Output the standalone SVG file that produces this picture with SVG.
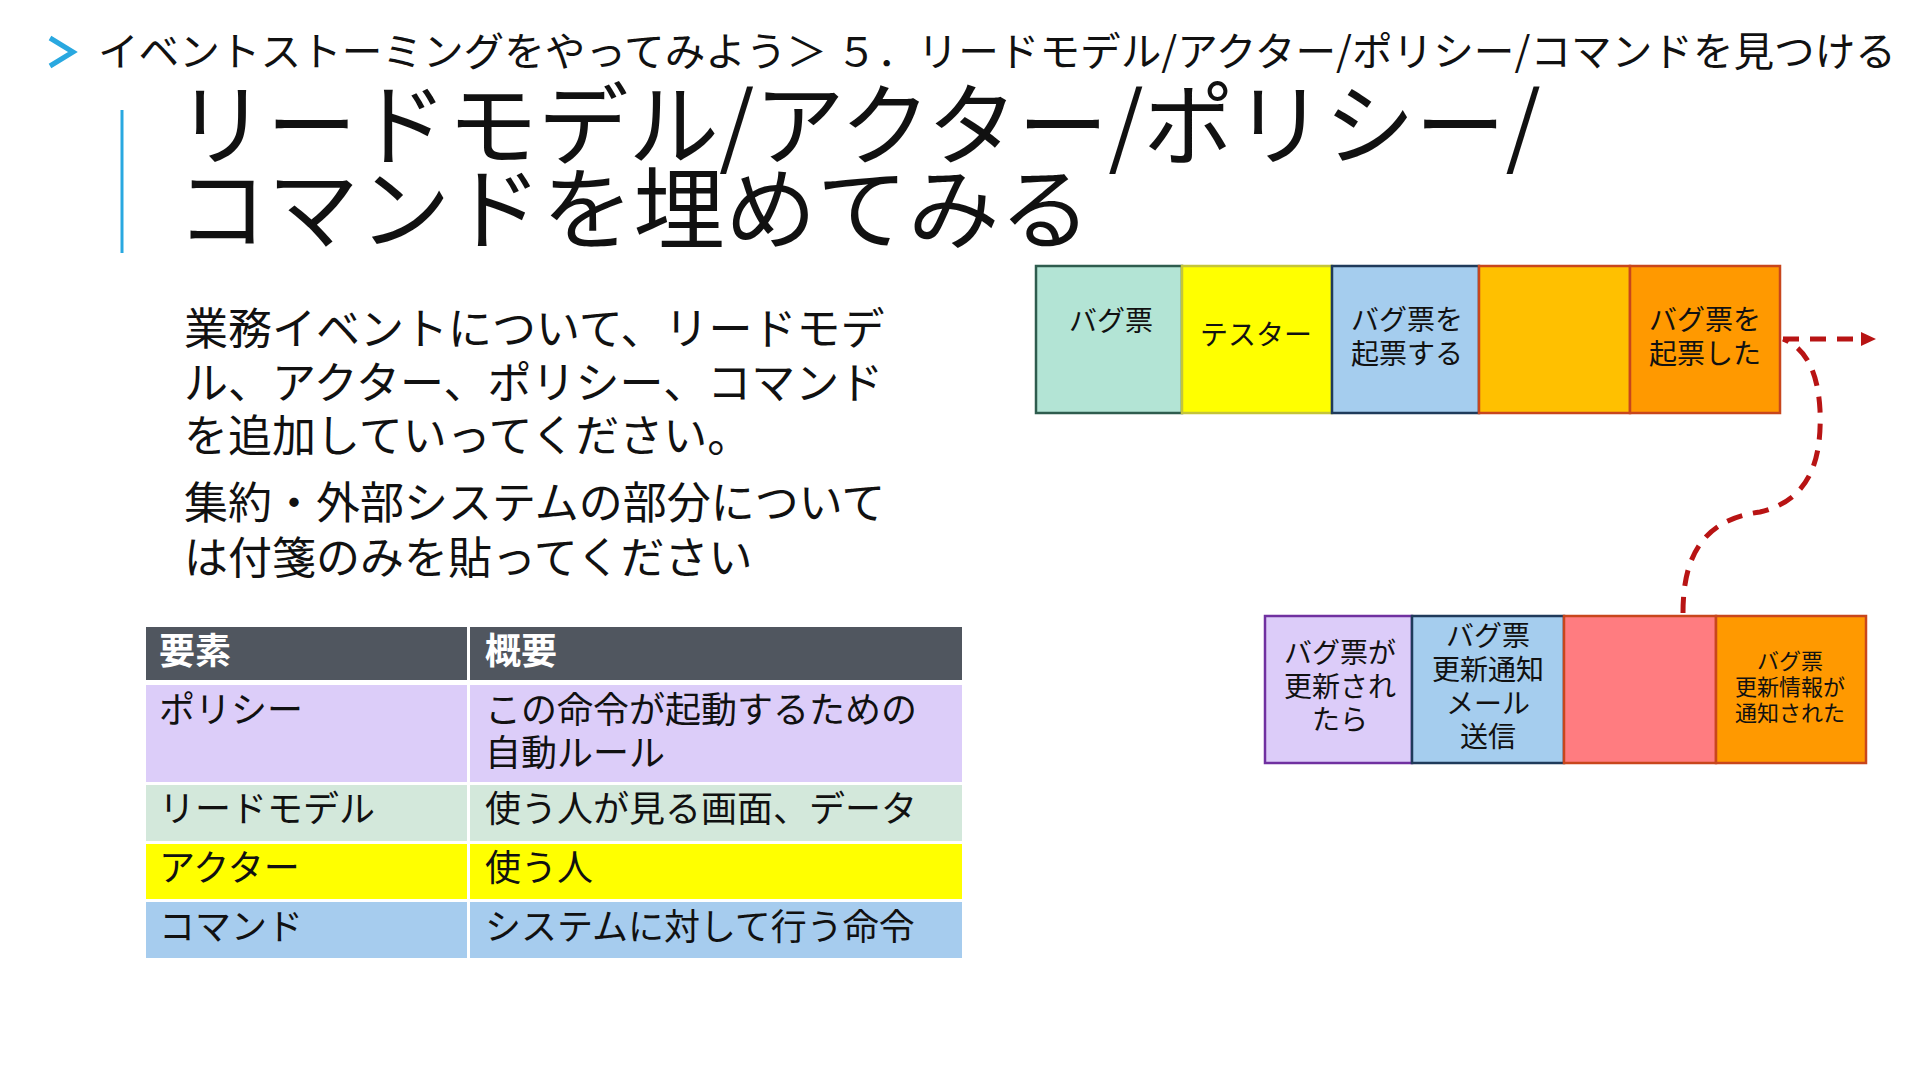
<svg xmlns="http://www.w3.org/2000/svg" width="1920" height="1080" viewBox="0 0 1920 1080">
<defs>
<style>
text{font-family:"Noto Sans CJK JP","Noto Sans",sans-serif;fill:#111}
.crumb{font-size:40px}
.title{font-size:90px}
.body{font-size:44px}
.cell{font-size:36px}
.head{font-size:36px;font-weight:700;fill:#fff}
.note{font-size:28px;text-anchor:middle}
.small{font-size:22px;text-anchor:middle}
.st{stroke-width:2.5}
.conn{fill:none;stroke:#B81414;stroke-width:5;stroke-dasharray:16 11}
</style>
<marker id="arr" markerUnits="userSpaceOnUse" markerWidth="16" markerHeight="16" refX="0" refY="7" orient="auto">
<path d="M0,0 L15,7 L0,14 z" fill="#B81414"/>
</marker>
</defs>
<rect width="1920" height="1080" fill="#fff"/>

<g id="header">
<polyline points="50,38 73,52 50,66" fill="none" stroke="#29A8E0" stroke-width="5"/>
<text class="crumb" x="98" y="66" textLength="1798" lengthAdjust="spacingAndGlyphs">イベントストーミングをやってみよう＞ ５．リードモデル/アクター/ポリシー/コマンドを見つける</text>
<line x1="122" y1="110" x2="122" y2="253" stroke="#29A8E0" stroke-width="3"/>
<text class="title" x="176" y="158" textLength="1365" lengthAdjust="spacingAndGlyphs">リードモデル/アクター/ポリシー/</text>
<text class="title" x="176" y="242" textLength="915" lengthAdjust="spacingAndGlyphs">コマンドを埋めてみる</text>
</g>

<g id="instructions">
<text class="body" x="184" y="345">業務イベントについて、リードモデ</text>
<text class="body" x="184" y="399">ル、アクター、ポリシー、コマンド</text>
<text class="body" x="184" y="452">を追加していってください。</text>
<text class="body" x="184" y="519">集約・外部システムの部分について</text>
<text class="body" x="184" y="574">は付箋のみを貼ってください</text>
</g>

<g id="legend-table">
<rect x="146" y="627" width="321" height="53" fill="#50565F"/>
<rect x="470" y="627" width="492" height="53" fill="#50565F"/>
<text class="head" x="159" y="664">要素</text>
<text class="head" x="485" y="664">概要</text>
<rect x="146" y="685" width="321" height="97" fill="#DCCDF9"/>
<rect x="470" y="685" width="492" height="97" fill="#DCCDF9"/>
<text class="cell" x="159" y="723">ポリシー</text>
<text class="cell" x="485" y="723">この命令が起動するための</text>
<text class="cell" x="485" y="766">自動ルール</text>
<rect x="146" y="785" width="321" height="56" fill="#D3E8DB"/>
<rect x="470" y="785" width="492" height="56" fill="#D3E8DB"/>
<text class="cell" x="159" y="822">リードモデル</text>
<text class="cell" x="485" y="822">使う人が見る画面、データ</text>
<rect x="146" y="844" width="321" height="55" fill="#FFFF00"/>
<rect x="470" y="844" width="492" height="55" fill="#FFFF00"/>
<text class="cell" x="159" y="881">アクター</text>
<text class="cell" x="485" y="881">使う人</text>
<rect x="146" y="902" width="321" height="56" fill="#A6CCEE"/>
<rect x="470" y="902" width="492" height="56" fill="#A6CCEE"/>
<text class="cell" x="159" y="940">コマンド</text>
<text class="cell" x="485" y="940">システムに対して行う命令</text>
</g>

<g id="read-model-bug">
<rect class="st" x="1036" y="266" width="146" height="147" fill="#B3E4D5" stroke="#2E5C4E"/>
<text class="note" x="1111" y="331">バグ票</text>
</g>
<g id="actor-tester">
<rect class="st" x="1182" y="266" width="150" height="147" fill="#FFFF00" stroke="#C4C43A"/>
<text class="note" x="1256" y="345">テスター</text>
</g>
<g id="command-create">
<rect class="st" x="1332" y="266" width="147" height="147" fill="#A5CDEE" stroke="#1F3A5A"/>
<text class="note" x="1407" y="330">バグ票を</text>
<text class="note" x="1407" y="364">起票する</text>
</g>
<g id="aggregate-top">
<rect class="st" x="1479" y="266" width="151" height="147" fill="#FFC000" stroke="#C8461C"/>
</g>
<g id="event-created">
<rect class="st" x="1630" y="266" width="150" height="147" fill="#FF9900" stroke="#C8461C"/>
<text class="note" x="1705" y="330">バグ票を</text>
<text class="note" x="1705" y="364">起票した</text>
</g>

<g id="policy-updated">
<rect class="st" x="1265" y="616" width="147" height="147" fill="#DCCCF9" stroke="#7030A0"/>
<text class="note" x="1340" y="663">バグ票が</text>
<text class="note" x="1340" y="697">更新され</text>
<text class="note" x="1340" y="730">たら</text>
</g>
<g id="command-notify">
<rect class="st" x="1412" y="616" width="152" height="147" fill="#A5CDEE" stroke="#1F3A5A"/>
<text class="note" x="1488" y="646">バグ票</text>
<text class="note" x="1488" y="680">更新通知</text>
<text class="note" x="1488" y="714">メール</text>
<text class="note" x="1488" y="747">送信</text>
</g>
<g id="external-system">
<rect class="st" x="1564" y="616" width="152" height="147" fill="#FF7C80" stroke="#C8461C"/>
</g>
<g id="event-notified">
<rect class="st" x="1716" y="616" width="150" height="147" fill="#FF9900" stroke="#C8461C"/>
<text class="small" x="1790" y="669">バグ票</text>
<text class="small" x="1790" y="695">更新情報が</text>
<text class="small" x="1790" y="721">通知された</text>
</g>

<g id="connectors">
<path class="conn" d="M1783,339 L1861,339" marker-end="url(#arr)"/>
<path class="conn" d="M1683,613 C1683,560 1700,520 1760,512 C1810,500 1822,460 1820,410 C1818,372 1806,348 1783,339"/>
</g>
</svg>
